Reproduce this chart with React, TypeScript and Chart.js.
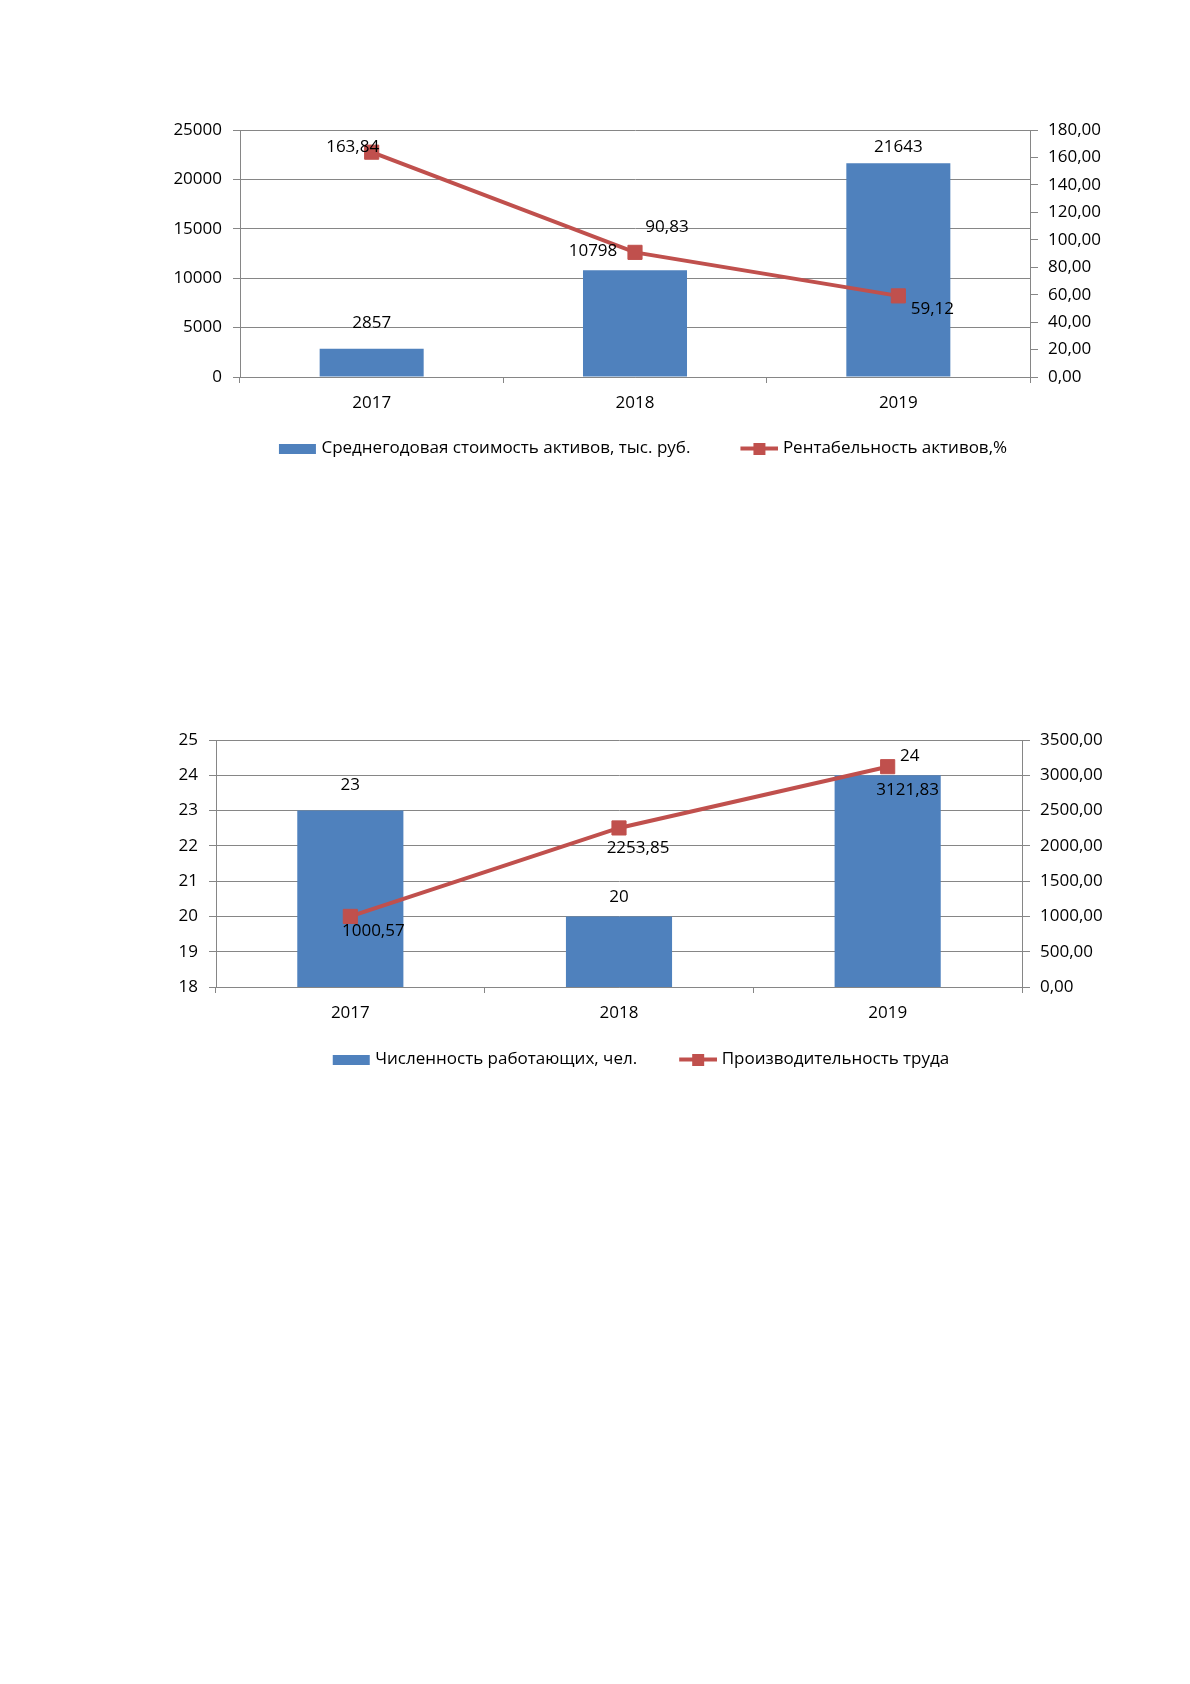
import { useEffect, useRef } from "react"
import { Chart, registerables } from "chart.js"

Chart.register(...registerables)

const years = ["2017", "2018", "2019"]

// chart 1: assets
const avgAssets = [2857, 10798, 21643]
const assetsReturn = [163.84, 90.83, 59.12]
const assetsLegend = ["Среднегодовая стоимость активов, тыс. руб.", "Рентабельность активов,%"]

// chart 2: staff
const staffCount = [23, 20, 24]
const productivity = [1000.57, 2253.85, 3121.83]
const staffLegend = ["Численность работающих, чел.", "Производительность труда"]

const BLUE = "#4F81BD"
const RED = "#C0504D"
const GRID = "#868686"
const FONT = "'Open Sans', 'Noto Sans', sans-serif"
const FS = 17

const comma2 = (v: number) => v.toFixed(2).replace(".", ",")

type Offsets = [number, number][]

interface ComboProps {
  top: number
  height: number
  bars: number[]
  line: number[]
  legend: string[]
  left: { min: number; max: number; step: number }
  right: { min: number; max: number; step: number }
  barOffsets: Offsets
  lineOffsets: Offsets
  padLeft: number
  leftWidth: number
  rightWidth: number
  xHeight: number
  bottomPad: number
  boxSlot: number
}

// legend icons: the visible mark sits at the right end of a wider slot,
// so the slot width controls the gap between legend entries
function barIcon(slot: number) {
  const c = document.createElement("canvas")
  c.width = slot + 8
  c.height = 10
  const g = c.getContext("2d")!
  g.fillStyle = BLUE
  g.fillRect(c.width - 38, 0, 37, 10)
  return c
}

function lineIcon(slot: number) {
  const c = document.createElement("canvas")
  c.width = slot + 8
  c.height = 12
  const g = c.getContext("2d")!
  g.strokeStyle = RED
  g.lineWidth = 4
  g.beginPath()
  g.moveTo(c.width - 38, 6)
  g.lineTo(c.width, 6)
  g.stroke()
  g.fillStyle = RED
  g.fillRect(c.width - 25, 0, 12, 12)
  return c
}

function ComboChart(p: ComboProps) {
  const chartRef = useRef<HTMLCanvasElement>(null)
  const chartInstance = useRef<Chart | null>(null)

  useEffect(() => {
    if (!chartRef.current) return
    if (chartInstance.current) chartInstance.current.destroy()

    const icons = [barIcon(p.boxSlot), lineIcon(p.boxSlot)]

    const valueLabels = {
      id: "valueLabels",
      afterDatasetsDraw(chart: any) {
        const ctx = chart.ctx
        ctx.save()
        ctx.font = `${FS}px ${FONT}`
        ctx.fillStyle = "#000"
        ctx.textAlign = "center"
        ctx.textBaseline = "middle"
        chart.data.datasets.forEach((ds: any, di: number) => {
          const meta = chart.getDatasetMeta(di)
          const offs = ds.type === "line" ? p.lineOffsets : p.barOffsets
          meta.data.forEach((el: any, i: number) => {
            const v = ds.data[i] as number
            const text = ds.type === "line" ? comma2(v) : String(v)
            ctx.fillText(text, el.x + offs[i][0], el.y + offs[i][1])
          })
        })
        ctx.restore()
      },
    }

    chartInstance.current = new Chart(chartRef.current, {
      type: "bar",
      data: {
        labels: years,
        datasets: [
          {
            type: "bar",
            label: p.legend[0],
            data: p.bars,
            backgroundColor: BLUE,
            yAxisID: "y",
            order: 2,
            barPercentage: 0.395,
            categoryPercentage: 1,
          },
          {
            type: "line",
            label: p.legend[1],
            data: p.line,
            borderColor: RED,
            backgroundColor: RED,
            borderWidth: 4,
            pointStyle: "rect",
            pointRadius: 10,
            pointBorderWidth: 1,
            tension: 0,
            yAxisID: "y1",
            order: 1,
          },
        ] as any,
      },
      plugins: [valueLabels],
      options: {
        animation: false,
        responsive: true,
        maintainAspectRatio: false,
        layout: { padding: { top: 30, left: p.padLeft, right: 0, bottom: p.bottomPad } },
        scales: {
          x: {
            offset: true,
            grid: { display: true, drawOnChartArea: false, drawTicks: true, tickLength: 6, offset: true, color: GRID },
            border: { display: true, color: GRID },
            ticks: { color: "#000", padding: 10, font: { family: FONT, size: FS } },
            afterFit: (s: any) => { s.height = p.xHeight },
          },
          y: {
            position: "left",
            min: p.left.min,
            max: p.left.max,
            ticks: {
              stepSize: p.left.step,
              color: "#000",
              padding: 11,
              font: { family: FONT, size: FS },
              callback: (v: any) => String(v),
            },
            grid: { color: GRID, tickLength: 7 },
            border: { display: true, color: GRID },
            afterFit: (s: any) => { s.width = p.leftWidth },
          },
          y1: {
            position: "right",
            min: p.right.min,
            max: p.right.max,
            ticks: {
              stepSize: p.right.step,
              color: "#000",
              padding: 10,
              font: { family: FONT, size: FS },
              callback: (v: any) => comma2(Number(v)),
            },
            grid: { drawOnChartArea: false, color: GRID, tickLength: 8 },
            border: { display: true, color: GRID },
            afterFit: (s: any) => { s.width = p.rightWidth },
          },
        } as any,
        plugins: {
          tooltip: { enabled: false },
          legend: {
            position: "bottom",
            labels: {
              color: "#000",
              font: { family: FONT, size: FS },
              usePointStyle: true,
              pointStyleWidth: p.boxSlot,
              padding: 20,
              sort: (a: any, b: any) => a.datasetIndex - b.datasetIndex,
              generateLabels: (chart: any) =>
                Chart.defaults.plugins.legend.labels
                  .generateLabels(chart)
                  .map((it: any) => ({ ...it, pointStyle: icons[it.datasetIndex] })),
            },
          },
        },
      } as any,
    })

    return () => {
      if (chartInstance.current) {
        chartInstance.current.destroy()
        chartInstance.current = null
      }
    }
  }, [p])

  return (
    <div style={{ position: "absolute", left: 0, top: p.top, width: 1190, height: p.height }}>
      <canvas ref={chartRef} />
    </div>
  )
}

const chart1: ComboProps = {
  top: 100,
  height: 380,
  bars: avgAssets,
  line: assetsReturn,
  legend: assetsLegend,
  left: { min: 0, max: 25000, step: 5000 },
  right: { min: 0, max: 180, step: 20 },
  barOffsets: [[0, -26], [-42, -19], [0, -16]],
  lineOffsets: [[-19, -5], [32, -25], [34, 13]],
  padLeft: 66,
  leftWidth: 174,
  rightWidth: 160,
  xHeight: 43,
  bottomPad: 13,
  boxSlot: 64,
}

const chart2: ComboProps = {
  top: 710,
  height: 380,
  bars: staffCount,
  line: productivity,
  legend: staffLegend,
  left: { min: 18, max: 25, step: 1 },
  right: { min: 0, max: 3500, step: 500 },
  barOffsets: [[0, -25], [0, -19], [22, -19]],
  lineOffsets: [[23, 15], [19, 20], [20, 23]],
  padLeft: 70,
  leftWidth: 146,
  rightWidth: 168,
  xHeight: 44,
  bottomPad: 12,
  boxSlot: 56,
}

export default function App() {
  return (
    <div style={{ position: "absolute", left: 0, top: 0, width: 1190, height: 1684, background: "#fff" }}>
      <ComboChart {...chart1} />
      <ComboChart {...chart2} />
    </div>
  )
}
